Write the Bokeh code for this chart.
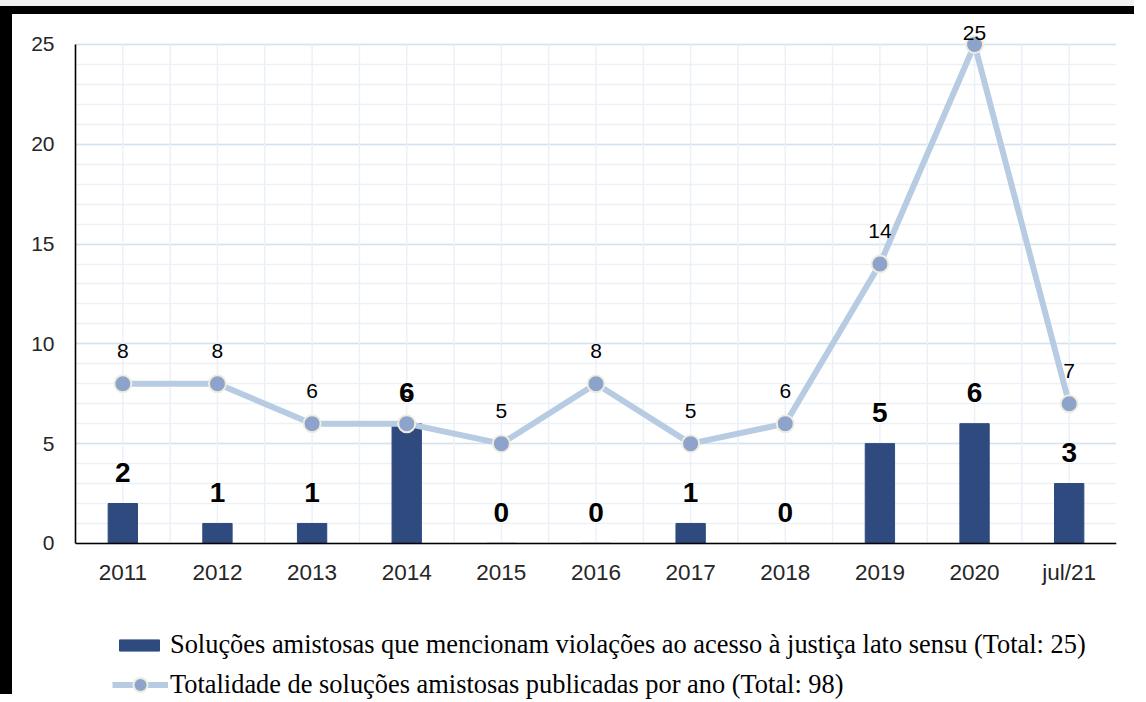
from bokeh.plotting import figure
from bokeh.models import (ColumnDataSource, LabelSet, Legend, LegendItem, Span,
                          FixedTicker, SingleIntervalTicker, Range1d)
from bokeh.core.properties import value
from bokeh.embed import file_html
from bokeh.resources import INLINE

# ---- data ----
categories = ["2011", "2012", "2013", "2014", "2015", "2016", "2017", "2018", "2019", "2020", "jul/21"]
access_justice = [2, 1, 1, 6, 0, 0, 1, 0, 5, 6, 3]
total_published = [8, 8, 6, 6, 5, 8, 5, 6, 14, 25, 7]
y_ticks = [0, 5, 10, 15, 20, 25]
label_bars = "Soluções amistosas que mencionam violações ao acesso à justiça lato sensu (Total: 25)"
label_line = "Totalidade de soluções amistosas publicadas por ano (Total: 98)"

n = len(categories)
idx = list(range(n))
ymax = max(y_ticks)
line_offsets = [33 if v < ymax else 11 for v in total_published]

src = ColumnDataSource(dict(
    x=idx,
    cat=categories,
    bars=access_justice,
    bar_txt=[str(v) for v in access_justice],
    tot=total_published,
    tot_txt=[str(v) for v in total_published],
    tot_off=line_offsets,
))

# vertical grid positions (category centres and boundaries), limited to the axis span
vx = [i * 0.5 for i in range(2 * n - 1)]
vgrid = ColumnDataSource(dict(x=vx, y0=[0] * len(vx), y1=[ymax] * len(vx)))

p = figure(width=1134, height=688, output_backend="svg", toolbar_location=None,
           x_range=Range1d(-0.5, n - 0.5), y_range=Range1d(-7.97, ymax + 1.2),
           x_axis_location=None,
           min_border_left=63, min_border_right=30, min_border_top=6, min_border_bottom=0)
p.title.visible = False
p.outline_line_color = None
p.background_fill_color = "white"
p.border_fill_color = "white"
p.styles = {"border-top": "8px solid black", "border-left": "12px solid black",
            "margin-top": "6px", "box-shadow": "0 -6px 0 0 #f0f0f0"}

# grids
p.ygrid.ticker = SingleIntervalTicker(interval=5, num_minor_ticks=5)
p.ygrid.bounds = (0, ymax)
p.ygrid.grid_line_color = "#D6E1EF"
p.ygrid.grid_line_width = 1.5
p.ygrid.minor_grid_line_color = "#ECF1F8"
p.ygrid.minor_grid_line_width = 1.5
p.xgrid.visible = False
p.segment(x0="x", y0="y0", x1="x", y1="y1", source=vgrid,
          line_color="#ECF1F8", line_width=1.5)

# y axis
ax = p.yaxis[0]
ax.ticker = FixedTicker(ticks=y_ticks)
ax.bounds = (0, ymax)
ax.axis_line_color = "black"
ax.axis_line_width = 1.6
ax.major_tick_line_color = None
ax.minor_tick_line_color = None
ax.major_tick_out = 0
ax.major_tick_in = 0
ax.minor_tick_out = 0
ax.major_label_text_font = "Liberation Sans"
ax.major_label_text_font_size = "21px"
ax.major_label_text_color = "#262626"
ax.major_label_standoff = 21

# bars
bar_r = p.vbar(x="x", top="bars", width=0.31, source=src,
               fill_color="#2E4A7F", line_color="#2E4A7F")

# line + markers
line_r = p.line(x="x", y="tot", source=src, line_color="#B7CCE2", line_width=6)
sc_r = p.scatter(x="x", y="tot", source=src, size=17, fill_color="#8EA3CB",
                 line_color="#EEEEDF", line_width=2)

# category axis: baseline + labels
p.add_layout(Span(location=0, dimension="width", line_color="black", line_width=1.6))
cat_lbl = LabelSet(x="x", y=0, text="cat", source=src, y_offset=-29,
                   text_align="center", text_baseline="middle",
                   text_font=value("Liberation Sans"), text_font_size="22.5px",
                   text_color="#262626")
p.add_layout(cat_lbl)

# value labels
bar_lbl = LabelSet(x="x", y="bars", text="bar_txt", source=src, y_offset=31,
                   text_align="center", text_baseline="middle",
                   text_font=value("Liberation Sans"), text_font_style="bold",
                   text_font_size="28px", text_color="black")
tot_lbl = LabelSet(x="x", y="tot", text="tot_txt", source=src, y_offset="tot_off",
                   text_align="center", text_baseline="middle",
                   text_font=value("Liberation Sans"), text_font_size="21px",
                   text_color="black")
p.add_layout(tot_lbl)
p.add_layout(bar_lbl)

common = dict(orientation="vertical", padding=0, margin=0,
              border_line_alpha=0, background_fill_alpha=0,
              label_text_font="Liberation Serif", label_text_font_size="26.4px",
              label_text_color="black")
legend_bars = Legend(items=[LegendItem(label=label_bars, renderers=[bar_r])],
                     location=(39, 42), glyph_width=50, glyph_height=14,
                     label_height=22, label_standoff=6, **common)
legend_line = Legend(items=[LegendItem(label=label_line, renderers=[line_r, sc_r])],
                     location=(37, 0), glyph_width=56, glyph_height=35,
                     label_height=22, label_standoff=2, **common)
p.add_layout(legend_bars, "center")
p.add_layout(legend_line, "center")

open("out.html", "w").write(file_html(p, INLINE))
